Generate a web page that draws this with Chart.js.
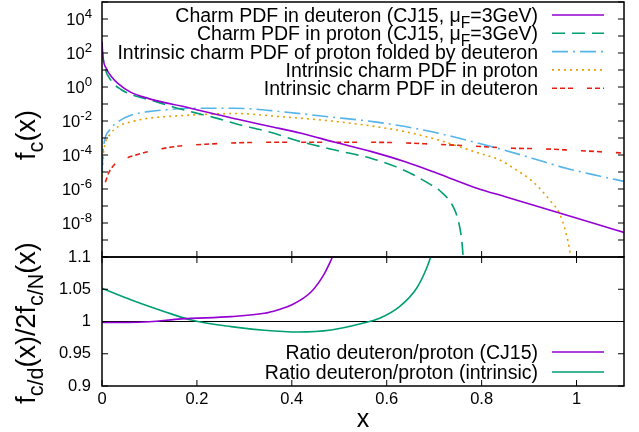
<!DOCTYPE html>
<html>
<head>
<meta charset="utf-8">
<script src="https://cdn.jsdelivr.net/npm/chart.js@4.4.1/dist/chart.umd.min.js"></script>
<style>
html, body { margin: 0; padding: 0; background: #fff; }
#wrap { position: relative; width: 639px; height: 432px; }
#wrap canvas { position: absolute; left: 0; top: 0; }
</style>
</head>
<body>
<div id="wrap">
  <canvas id="pdfChart" width="639" height="432"></canvas>
  <canvas id="ratioChart" width="639" height="432"></canvas>
</div>
<script>
// ---- top panel: charm PDFs f_c(x) ----
const xDeutCJ15 = [0, 0.002, 0.009, 0.02, 0.034, 0.06, 0.097, 0.132, 0.167, 0.202, 0.237, 0.286, 0.35, 0.42, 0.491, 0.568, 0.639, 0.709, 0.79, 0.85, 0.908, 0.978, 1.048, 1.1];
const fDeutCJ15 = [4.6e2, 60, 12.6, 4.0, 1.58, 0.5, 0.214, 0.12, 0.076, 0.0447, 0.0257, 0.0126, 5.1e-3, 1.9e-3, 5.6e-4, 1.58e-4, 4.0e-5, 7.9e-6, 1.12e-6, 3.5e-7, 1.15e-7, 2.95e-8, 7.6e-9, 2.8e-9];

const xProtCJ15 = [0, 0.005, 0.02, 0.04, 0.06, 0.08, 0.114, 0.153, 0.195, 0.237, 0.28, 0.35, 0.42, 0.491, 0.568, 0.62, 0.655, 0.69, 0.712, 0.74, 0.752, 0.758, 0.761, 0.763];
const fProtCJ15 = [1.6e2, 17.8, 2.24, 0.71, 0.38, 0.25, 0.138, 0.063, 0.031, 0.0158, 7.1e-3, 2.34e-3, 6.0e-4, 1.95e-4, 6.3e-5, 2.0e-5, 7.1e-6, 2.0e-6, 7.9e-7, 9.1e-8, 1e-8, 1e-9, 1e-10, 1e-11];

const xFolded = [0, 0.002, 0.0056, 0.016, 0.034, 0.062, 0.097, 0.132, 0.187, 0.28, 0.378, 0.476, 0.575, 0.639, 0.709, 0.79, 0.85, 0.908, 0.978, 1.048, 1.1];
const fFolded = [1e-5, 1.26e-4, 7.6e-4, 2.95e-3, 9.1e-3, 0.0224, 0.0355, 0.0447, 0.0562, 0.0562, 0.0355, 0.0178, 8.9e-3, 4.7e-3, 1.9e-3, 5.2e-4, 1.86e-4, 6.3e-5, 1.66e-5, 5.8e-6, 2.8e-6];

const xIntProt = [0, 0.002, 0.006, 0.016, 0.034, 0.062, 0.097, 0.132, 0.187, 0.28, 0.378, 0.476, 0.568, 0.639, 0.709, 0.79, 0.838, 0.873, 0.908, 0.945, 0.964, 0.978, 0.987, 0.991];
const fIntProt = [5e-6, 6.3e-5, 3.9e-4, 1.51e-3, 4.7e-3, 9.1e-3, 0.0145, 0.0178, 0.0224, 0.0275, 0.0178, 0.0105, 5.1e-3, 2.34e-3, 7.6e-4, 1.41e-4, 5.1e-5, 1.32e-5, 2.7e-6, 2.0e-7, 3.7e-8, 2.45e-9, 1.32e-10, 1e-11];

const xIntDeut = [0.007, 0.015, 0.025, 0.035, 0.05, 0.069, 0.1, 0.153, 0.23, 0.308, 0.385, 0.455, 0.547, 0.611, 0.688, 0.779, 0.866, 0.922, 0.985, 1.069, 1.1];
const fIntDeut = [2.5e-6, 1e-5, 2.5e-5, 4e-5, 6.3e-5, 9.5e-5, 1.66e-4, 3.1e-4, 4.5e-4, 5.4e-4, 5.6e-4, 5.6e-4, 5.6e-4, 5.4e-4, 4.5e-4, 3.4e-4, 2.5e-4, 2.34e-4, 1.95e-4, 1.45e-4, 1.29e-4];

// ---- bottom panel: ratios ----
const xRatioCJ15 = [0, 0.05, 0.1, 0.167, 0.272, 0.342, 0.37, 0.399, 0.441, 0.469, 0.486, 0.495];
const rRatioCJ15 = [0.9985, 0.9985, 0.9995, 1.004, 1.0075, 1.0127, 1.018, 1.0256, 1.0462, 1.0747, 1.1005, 1.115];

const xRatioInt = [0, 0.062, 0.132, 0.188, 0.272, 0.342, 0.413, 0.483, 0.545, 0.585, 0.627, 0.663, 0.684, 0.694, 0.7];
const rRatioInt = [1.0515, 1.0333, 1.0152, 1.0023, 0.992, 0.9864, 0.9837, 0.9868, 0.9965, 1.005, 1.023, 1.0515, 1.0825, 1.103, 1.115];

// ---- ticks ----
const xTicks = [0, 0.2, 0.4, 0.6, 0.8, 1];
const xTickLabels = ['0', '0.2', '0.4', '0.6', '0.8', '1'];
const logTicks = [1e4, 1e2, 1e0, 1e-2, 1e-4, 1e-6, 1e-8];
const logTickLabels = ['10^{4}', '10^{2}', '10^{0}', '10^{-2}', '10^{-4}', '10^{-6}', '10^{-8}'];
const ratioTicks = [0.9, 0.95, 1, 1.05, 1.1];
const ratioTickLabels = ['0.9', '0.95', '1', '1.05', '1.1'];

const FONT = "'Liberation Sans', Arial, sans-serif";
const PLOT_L = 102, PLOT_R = 624;
const KEY_SIZE = 19.5;

function pts(xs, ys) { return xs.map((x, i) => ({ x: x, y: ys[i] })); }

function series(label, xs, ys, color, dash) {
  return {
    label: label, data: pts(xs, ys), borderColor: color, borderDash: dash,
    borderWidth: 1.6, pointRadius: 0, fill: false, cubicInterpolationMode: 'monotone'
  };
}

// tiny "enhanced text": _{sub} and ^{sup}
function parseRich(s) {
  const out = []; let buf = '', i = 0;
  while (i < s.length) {
    const c = s[i];
    if ((c === '_' || c === '^') && s[i + 1] === '{') {
      if (buf) { out.push({ t: buf, k: 0 }); buf = ''; }
      const end = s.indexOf('}', i);
      out.push({ t: s.slice(i + 2, end), k: c === '_' ? 1 : -1 });
      i = end + 1;
    } else { buf += c; i++; }
  }
  if (buf) out.push({ t: buf, k: 0 });
  return out;
}

function drawRich(ctx, s, x, y, size, align) {
  const segs = parseRich(s);
  let w = 0;
  segs.forEach(g => {
    ctx.font = (g.k ? size * 0.8 : size) + 'px ' + FONT;
    g.w = ctx.measureText(g.t).width; w += g.w;
  });
  let cx = align === 'right' ? x - w : align === 'center' ? x - w / 2 : x;
  ctx.textAlign = 'left'; ctx.textBaseline = 'alphabetic'; ctx.fillStyle = '#000';
  segs.forEach(g => {
    ctx.font = (g.k ? size * 0.8 : size) + 'px ' + FONT;
    const dy = g.k === 1 ? size * 0.3 : g.k === -1 ? -size * 0.42 : 0;
    ctx.fillText(g.t, cx, y + dy);
    cx += g.w;
  });
}

function drawKey(ctx, datasets, y0, step, size) {
  datasets.forEach((d, i) => {
    const y = y0 + i * step;
    drawRich(ctx, d.label, 538, y + size * 0.36, size, 'right');
    ctx.save();
    ctx.strokeStyle = d.borderColor; ctx.lineWidth = d.borderWidth;
    ctx.setLineDash(d.borderDash || []);
    ctx.beginPath(); ctx.moveTo(552, y); ctx.lineTo(604, y); ctx.stroke();
    ctx.restore();
  });
}

function frameTicks(chart, yVals, xTop, xBottom) {
  const ctx = chart.ctx, a = chart.chartArea;
  const xs = chart.scales.x, ys = chart.scales.y, L = 6;
  ctx.save();
  ctx.strokeStyle = '#000'; ctx.lineWidth = 1;
  ctx.beginPath();
  yVals.forEach(v => {
    const p = ys.getPixelForValue(v);
    ctx.moveTo(a.left, p); ctx.lineTo(a.left + L, p);
    ctx.moveTo(a.right, p); ctx.lineTo(a.right - L, p);
  });
  xTicks.forEach(v => {
    const p = xs.getPixelForValue(v);
    if (xTop) { ctx.moveTo(p, a.top); ctx.lineTo(p, a.top + L); }
    if (xBottom) { ctx.moveTo(p, a.bottom); ctx.lineTo(p, a.bottom - L); }
  });
  ctx.stroke();
  ctx.lineWidth = 1.5;
  ctx.strokeRect(a.left, a.top, a.right - a.left, a.bottom - a.top);
  ctx.restore();
}

function yTitle(ctx, text, cy, size) {
  ctx.save();
  ctx.translate(35, cy); ctx.rotate(-Math.PI / 2);
  drawRich(ctx, text, 0, 0, size, 'center');
  ctx.restore();
}

const decades = [];
for (let e = -10; e <= 5; e++) decades.push(Math.pow(10, e));

const pdfDatasets = [
  series('Charm PDF in deuteron (CJ15, μ_{F}=3GeV)', xDeutCJ15, fDeutCJ15, '#9400d3', []),
  series('Charm PDF in proton (CJ15, μ_{F}=3GeV)', xProtCJ15, fProtCJ15, '#009e73', [13, 7]),
  series('Intrinsic charm PDF of proton folded by deuteron', xFolded, fFolded, '#56b4e9', [16, 5, 2, 5]),
  series('Intrinsic charm PDF in proton', xIntProt, fIntProt, '#e69f00', [2, 4]),
  series('Intrinsic charm PDF in deuteron', xIntDeut, fIntDeut, '#e51e10', [5, 3, 5, 3, 5, 14])
];

const pdfDecor = {
  id: 'pdfDecor',
  afterDatasetsDraw(chart) {
    const ctx = chart.ctx, ys = chart.scales.y;
    frameTicks(chart, decades, false, true);
    logTicks.forEach((v, i) => {
      drawRich(ctx, logTickLabels[i], 92, ys.getPixelForValue(v) + 6, 16.5, 'right');
    });
    yTitle(ctx, 'f_{c}(x)', 135, 27);
    drawKey(ctx, chart.data.datasets, 15, 18.3, KEY_SIZE);
  }
};

new Chart(document.getElementById('pdfChart'), {
  type: 'line',
  data: { datasets: pdfDatasets },
  options: {
    responsive: false, animation: false, events: [],
    layout: { padding: { left: 0, right: 639 - PLOT_R, top: 2, bottom: 175 } },
    plugins: { legend: { display: false }, tooltip: { enabled: false } },
    scales: {
      x: { type: 'linear', min: 0, max: 1.1, display: false },
      y: {
        type: 'logarithmic', min: 1e-10, max: 1e5,
        grid: { display: false, drawTicks: false }, border: { display: false },
        ticks: { display: false },
        afterFit: s => { s.width = PLOT_L; }
      }
    }
  },
  plugins: [pdfDecor]
});

const ratioDatasets = [
  series('Ratio deuteron/proton (CJ15)', xRatioCJ15, rRatioCJ15, '#9400d3', []),
  series('Ratio deuteron/proton (intrinsic)', xRatioInt, rRatioInt, '#009e73', []),
  { label: 'unity', data: pts([0, 1.1], [1, 1]), borderColor: '#000', borderWidth: 1, pointRadius: 0 }
];

const ratioDecor = {
  id: 'ratioDecor',
  afterDatasetsDraw(chart) {
    const ctx = chart.ctx;
    frameTicks(chart, ratioTicks, true, true);
    yTitle(ctx, 'f_{c/d}(x)/2f_{c/N}(x)', 323, 27);
    drawRich(ctx, 'x', 363, 427, 25, 'center');
    drawKey(ctx, chart.data.datasets.slice(0, 2), 352, 20, KEY_SIZE);
  }
};

new Chart(document.getElementById('ratioChart'), {
  type: 'line',
  data: { datasets: ratioDatasets },
  options: {
    responsive: false, animation: false, events: [],
    layout: { padding: { left: 0, right: 639 - PLOT_R, top: 257, bottom: 0 } },
    plugins: { legend: { display: false }, tooltip: { enabled: false } },
    scales: {
      x: {
        type: 'linear', min: 0, max: 1.1,
        grid: { display: false, drawTicks: false }, border: { display: false },
        afterBuildTicks: s => { s.ticks = xTicks.map(v => ({ value: v })); },
        ticks: { color: '#000', font: { family: FONT, size: 16.5 }, padding: 4, maxRotation: 0,
                 callback: (v, i) => xTickLabels[i] },
        afterFit: s => { s.height = 46; }
      },
      y: {
        type: 'linear', min: 0.9, max: 1.1,
        grid: { display: false, drawTicks: false }, border: { display: false },
        afterBuildTicks: s => { s.ticks = ratioTicks.map(v => ({ value: v })); },
        ticks: { color: '#000', font: { family: FONT, size: 16.5 }, padding: 11,
                 callback: (v, i) => ratioTickLabels[i] },
        afterFit: s => { s.width = PLOT_L; }
      }
    }
  },
  plugins: [ratioDecor]
});
</script>
</body>
</html>
